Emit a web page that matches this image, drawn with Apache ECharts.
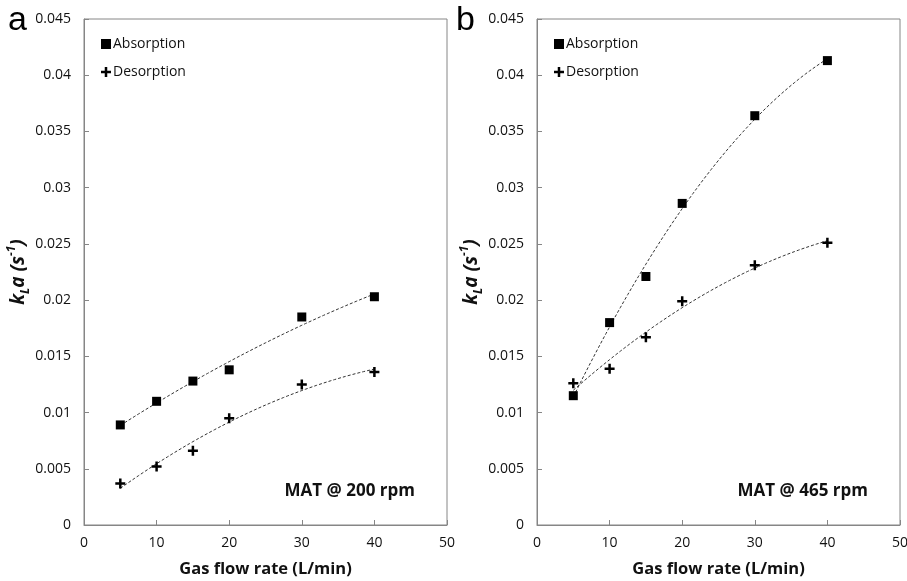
<!DOCTYPE html>
<html>
<head>
<meta charset="utf-8">
<script src="https://cdn.jsdelivr.net/npm/echarts@6/dist/echarts.min.js"></script>
<style>
  html, body { margin: 0; padding: 0; background: #fff; }
  #chart { width: 907px; height: 581px; }
</style>
</head>
<body>
<div id="chart"></div>
<script>
const flowRates = [5, 10, 15, 20, 30, 40];
const absorption200 = [0.0089, 0.0110, 0.0128, 0.0138, 0.0185, 0.0203];
const desorption200 = [0.0037, 0.0052, 0.0066, 0.0095, 0.0125, 0.0136];
const absorption465 = [0.0115, 0.0180, 0.0221, 0.0286, 0.0364, 0.0413];
const desorption465 = [0.0126, 0.0139, 0.0167, 0.0199, 0.0231, 0.0251];
const panelLetters = ["a", "b"];
const panelNotes = ["MAT @ 200 rpm", "MAT @ 465 rpm"];

const font = "'Open Sans', sans-serif";
const plusPath = "path://M3.75,0h2.5v3.75h3.75v2.5h-3.75v3.75h-2.5v-3.75h-3.75v-2.5h3.75z";

// Excel-style 2nd order polynomial trendline (least squares)
function polyFit(x, y) {
  let s = [0, 0, 0, 0, 0], t = [0, 0, 0];
  x.forEach((xi, i) => {
    for (let k = 0; k < 5; k++) s[k] += Math.pow(xi, k);
    for (let k = 0; k < 3; k++) t[k] += Math.pow(xi, k) * y[i];
  });
  const m = [
    [s[0], s[1], s[2], t[0]],
    [s[1], s[2], s[3], t[1]],
    [s[2], s[3], s[4], t[2]],
  ];
  for (let c = 0; c < 3; c++) {
    for (let r = c + 1; r < 3; r++) {
      const f = m[r][c] / m[c][c];
      for (let k = c; k < 4; k++) m[r][k] -= f * m[c][k];
    }
  }
  const b = [0, 0, 0];
  for (let r = 2; r >= 0; r--) {
    let v = m[r][3];
    for (let k = r + 1; k < 3; k++) v -= m[r][k] * b[k];
    b[r] = v / m[r][r];
  }
  return b;
}

function trend(x, y) {
  const b = polyFit(x, y);
  const out = [];
  for (let v = x[0]; v <= x[x.length - 1] + 1e-9; v += 0.5) out.push([v, b[0] + b[1] * v + b[2] * v * v]);
  return out;
}

const pairs = (x, y) => x.map((v, i) => [v, y[i]]);

const grids = [
  { left: 84, top: 19, width: 363, height: 506 },
  { left: 537, top: 19, width: 363, height: 506 },
];

const axisColor = "#868686";
const textColor = "#111";

const xAxes = grids.map((g, i) => ({
  gridIndex: i,
  type: "value",
  min: 0,
  max: 50,
  interval: 10,
  name: "Gas flow rate (L/min)",
  nameLocation: "middle",
  nameGap: 36,
  nameTextStyle: { fontFamily: font, fontSize: 16.5, fontWeight: "bold", color: textColor },
  axisLine: { lineStyle: { color: axisColor } },
  axisTick: { inside: true, length: 5, lineStyle: { color: axisColor } },
  axisLabel: { fontFamily: font, fontSize: 14, color: textColor, margin: 11 },
  splitLine: { show: false },
}));

const yAxes = grids.map((g, i) => ({
  gridIndex: i,
  type: "value",
  min: 0,
  max: 0.045,
  interval: 0.005,
  name: "{i|k}{sub|L}{i|a (s}{sup|-1}{i|)}",
  nameLocation: "middle",
  nameGap: 52,
  nameRotate: 90,
  nameTextStyle: {
    rich: {
      i: { fontFamily: font, fontSize: 19, fontWeight: "bold", fontStyle: "italic", color: textColor, lineHeight: 26 },
      sub: { fontFamily: font, fontSize: 12, fontWeight: "bold", fontStyle: "italic", color: textColor, verticalAlign: "bottom", lineHeight: 26, padding: [7, 0, 0, 0] },
      sup: { fontFamily: font, fontSize: 12, fontWeight: "bold", fontStyle: "italic", color: textColor, verticalAlign: "top", lineHeight: 26 },
    },
  },
  axisLine: { show: true, lineStyle: { color: axisColor } },
  axisTick: { show: true, inside: true, length: 5, lineStyle: { color: axisColor } },
  axisLabel: {
    fontFamily: font, fontSize: 14, color: textColor, margin: 13,
    formatter: (v) => String(parseFloat(v.toFixed(3))),
  },
  splitLine: { show: false },
}));

const sets = [
  [absorption200, desorption200],
  [absorption465, desorption465],
];

const series = [];
sets.forEach(([abs, des], i) => {
  series.push({
    name: "Absorption", type: "scatter", xAxisIndex: i, yAxisIndex: i,
    symbol: "rect", symbolSize: 9, itemStyle: { color: "#000", opacity: 1 },
    data: pairs(flowRates, abs), z: 5,
  });
  series.push({
    name: "Desorption", type: "scatter", xAxisIndex: i, yAxisIndex: i,
    symbol: plusPath, symbolSize: 10, itemStyle: { color: "#000", opacity: 1 },
    data: pairs(flowRates, des), z: 5,
  });
  [abs, des].forEach((y) => {
    series.push({
      type: "line", xAxisIndex: i, yAxisIndex: i, showSymbol: false, symbol: "none",
      lineStyle: { color: "#333", width: 1, type: [3, 2] },
      data: trend(flowRates, y), silent: true, z: 3,
    });
  });
});

const legends = grids.map((g) => ({
  data: ["Absorption", "Desorption"],
  orient: "vertical",
  left: g.left + 12,
  top: 32,
  itemWidth: 10,
  itemHeight: 10,
  itemGap: 14,
  textStyle: { fontFamily: font, fontSize: 14, color: textColor, padding: [0, 0, 0, -3] },
}));

const texts = [];
grids.forEach((g, i) => {
  texts.push({
    type: "text", left: i === 0 ? 8 : g.left - 81, top: 4,
    style: { text: panelLetters[i], font: "34px 'Liberation Sans', Arial, sans-serif", fill: "#000" },
  });
  texts.push({
    type: "text", right: 907 - (g.left + g.width) + 32, top: 483,
    style: { text: panelNotes[i], font: "bold 17px 'Open Sans', sans-serif", fill: textColor },
  });
});

const chart = echarts.init(document.getElementById("chart"));
chart.setOption({
  animation: false,
  backgroundColor: "#fff",
  grid: grids.map((g) => ({
    ...g, show: true, borderColor: axisColor, borderWidth: 1, backgroundColor: "transparent",
    containLabel: false, outerBoundsMode: "none",
  })),
  xAxis: xAxes,
  yAxis: yAxes,
  legend: legends,
  graphic: texts,
  series,
});
</script>
</body>
</html>
